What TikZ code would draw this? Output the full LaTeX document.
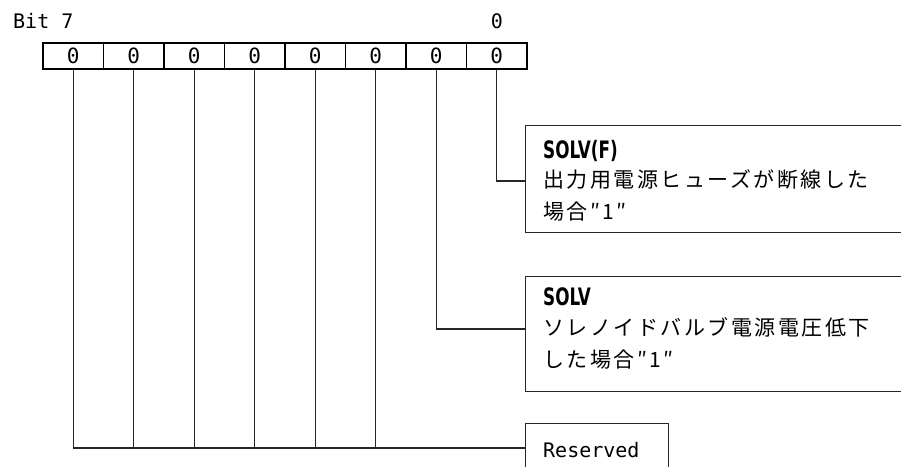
\documentclass[tikz,border=0pt]{standalone}
\usepackage{fontspec}
\newfontfamily\jpfont{Noto Sans CJK JP}[LetterSpace=12]
\newfontfamily\monofont{DejaVu Sans Mono}
\newfontfamily\solvfont{DejaVu Sans}[FakeStretch=0.7]
\begin{document}
\begin{tikzpicture}[x=1pt,y=-1pt]
\tikzset{
  cell/.style={draw, line width=1.9pt, minimum width=60.5pt, minimum height=26pt, inner sep=0pt,
    font=\monofont\fontsize{21}{21}\selectfont},
  conn/.style={draw, line width=1.3pt, color=black!85},
  infobox/.style={draw, line width=1.3pt, color=black!85, anchor=north west, inner sep=0pt},
  lbl/.style={anchor=base west, inner sep=0pt, font=\monofont\fontsize{20}{20}\selectfont},
  title/.style={anchor=base west, inner sep=0pt, font=\solvfont\bfseries\fontsize{24}{24}\selectfont},
  jp/.style={anchor=base west, inner sep=0pt, font=\jpfont\fontsize{21}{21}\selectfont}
}
\useasboundingbox (0,0) rectangle (901,466);
% header labels
\node[lbl] (bit7) at (13,28) {Bit 7};
\node[lbl, anchor=base] (bit0) at (497,28) {0};
% register cells
\foreach \i in {0,...,7} {
  \node[cell] (c\i) at ({43+60.5*(\i+0.5)},56) {0};
}
% boxes
\node[infobox, minimum width=385pt, minimum height=107pt] (b1) at (525,125) {};
\node[infobox, minimum width=385pt, minimum height=115pt] (b2) at (525,276) {};
\node[infobox, minimum width=143pt, minimum height=60pt] (b3) at (525,423) {};
% connector ends
\coordinate (k1) at (525,181);
\coordinate (k2) at (525,329);
\coordinate (k3) at (525,448);
\draw[conn] (c7.south) |- (k1);
\draw[conn] (c6.south) |- (k2);
\draw[conn] (c0.south) |- (k3);
\foreach \i in {1,...,5} {
  \draw[conn] (c\i.south) -- (c\i.south |- k3);
}
% texts
\node[title] (t1a) at (543,158) {SOLV(F)};
\node[jp] (t1b) at (543,187) {出力用電源ヒューズが断線した};
\node[jp] (t1c) at (543,219) {場合″1″};
\node[title] (t2a) at (543,305) {SOLV};
\node[jp] (t2b) at (543,335) {ソレノイドバルブ電源電圧低下};
\node[jp] (t2c) at (543,367) {した場合″1″};
\node[lbl] (t3) at (543,457) {Reserved};
\end{tikzpicture}
\end{document}
